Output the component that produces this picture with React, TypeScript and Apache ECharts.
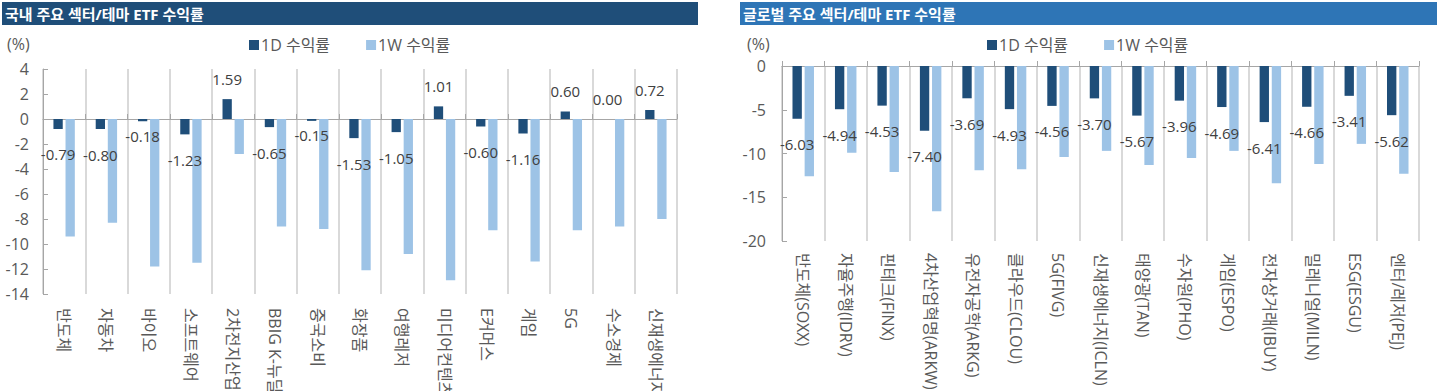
import React, { useEffect, useRef } from "react";
import * as echarts from "echarts";

// ---- data ----
const KR_CATEGORIES = ["반도체", "자동차", "바이오", "소프트웨어", "2차전지산업", "BBIG K-뉴딜", "중국소비", "화장품", "여행레저", "미디어컨텐츠", "E커머스", "게임", "5G", "수소경제", "신재생에너지"];
const KR_1D = [-0.79, -0.8, -0.18, -1.23, 1.59, -0.65, -0.15, -1.53, -1.05, 1.01, -0.6, -1.16, 0.6, 0.0, 0.72];
const KR_1W = [-9.4, -8.3, -11.8, -11.5, -2.8, -8.6, -8.8, -12.1, -10.8, -12.9, -8.9, -11.4, -8.9, -8.6, -8.0];

const GL_CATEGORIES = ["반도체(SOXX)", "자율주행(IDRV)", "핀테크(FINX)", "4차산업혁명(ARKW)", "유전자공학(ARKG)", "클라우드(CLOU)", "5G(FIVG)", "신재생에너지(ICLN)", "태양광(TAN)", "수자원(PHO)", "게임(ESPO)", "전자상거래(IBUY)", "밀레니얼(MILN)", "ESG(ESGU)", "엔터/레저(PEJ)"];
const GL_1D = [-6.03, -4.94, -4.53, -7.4, -3.69, -4.93, -4.56, -3.7, -5.67, -3.96, -4.69, -6.41, -4.66, -3.41, -5.62];
const GL_1W = [-12.6, -9.9, -12.1, -16.6, -11.9, -11.8, -10.4, -9.7, -11.3, -10.5, -9.7, -13.4, -11.2, -8.9, -12.3];

const SERIES_NAMES = ["1D 수익률", "1W 수익률"];
const KR_TITLE = "국내 주요 섹터/테마 ETF 수익률";
const GL_TITLE = "글로벌 주요 섹터/테마 ETF 수익률";
const UNIT = "(%)";
const KR_Y = { min: -14, max: 4, interval: 2 };
const GL_Y = { min: -20, max: 0, interval: 5 };
// indices of KR 1D labels that sit closer to their bar
const KR_TIGHT_LABELS = [2, 6];

// ---- styles ----
const FONT = "'Open Sans', 'Noto Sans CJK KR', sans-serif";
const C_1D = "#1F4E79";
const C_1W = "#9DC3E6";
const AXIS_GRAY = "#A6A6A6";
const GRID_GRAY = "#D9D9D9";
const TEXT_GRAY = "#595959";
const LABEL_COLOR = "#404040";

function labelFor(v: number, tight: boolean) {
  if (v >= 0) return { position: "top", distance: 13 };
  return { position: "bottom", distance: tight ? 7 : 18 };
}

function gridAxes(categories: string[], gridIndex: number, labelMargin: number) {
  return [
    {
      type: "category",
      gridIndex,
      data: categories,
      position: "bottom",
      axisLine: { show: false, onZero: false },
      axisTick: { show: false },
      axisLabel: {
        interval: 0,
        rotate: -90,
        margin: labelMargin,
        fontSize: 16,
        color: TEXT_GRAY,
        fontFamily: FONT,
      },
      splitLine: { show: true, interval: 0, lineStyle: { color: GRID_GRAY, width: 2 } },
    },
    {
      type: "category",
      gridIndex,
      data: categories,
      position: "bottom",
      axisLine: { show: true, onZero: true, lineStyle: { color: AXIS_GRAY, width: 1 } },
      axisTick: { show: true, inside: true, length: 5, interval: 0, lineStyle: { color: AXIS_GRAY } },
      axisLabel: { show: false },
      splitLine: { show: false },
    },
  ];
}

function valueAxis(gridIndex: number, cfg: { min: number; max: number; interval: number }, margin: number) {
  return {
    type: "value",
    gridIndex,
    min: cfg.min,
    max: cfg.max,
    interval: cfg.interval,
    axisLine: { show: true, lineStyle: { color: AXIS_GRAY, width: 1 } },
    axisTick: { show: true, inside: true, length: 5, lineStyle: { color: AXIS_GRAY } },
    axisLabel: { fontSize: 16, color: TEXT_GRAY, fontFamily: FONT, margin },
    splitLine: { show: false },
  };
}

function barSeries(d1: number[], w1: number[], xAxisIndex: number, yAxisIndex: number, tight: number[]) {
  return [
    {
      name: SERIES_NAMES[0],
      type: "bar",
      xAxisIndex,
      yAxisIndex,
      barWidth: "22%",
      barGap: "30%",
      itemStyle: { color: C_1D },
      label: {
        show: true,
        fontSize: 15,
        color: LABEL_COLOR,
        fontFamily: FONT,
        formatter: (p: any) => Number(p.value).toFixed(2),
      },
      data: d1.map((v, i) => ({ value: v, label: labelFor(v, tight.includes(i)) })),
    },
    {
      name: SERIES_NAMES[1],
      type: "bar",
      xAxisIndex,
      yAxisIndex,
      barWidth: "22%",
      barGap: "30%",
      itemStyle: { color: C_1W },
      data: w1,
    },
  ];
}

function legend(left: number) {
  return {
    left,
    top: 32,
    itemWidth: 10,
    itemHeight: 10,
    itemGap: 36,
    icon: "rect",
    data: SERIES_NAMES,
    textStyle: { fontSize: 16, color: TEXT_GRAY, fontFamily: FONT, padding: [0, 0, 0, -3] },
    selectedMode: false,
  };
}

export default function App() {
  const ref = useRef<HTMLDivElement>(null);
  useEffect(() => {
    if (!ref.current) return;
    const chart = echarts.init(ref.current, null, { renderer: "svg" });
    chart.setOption({
      animation: false,
      backgroundColor: "#ffffff",
      textStyle: { fontFamily: FONT },
      grid: [
        { left: 43, top: 69, width: 634, height: 225, containLabel: false, outerBoundsMode: "none" },
        { left: 782, top: 66, width: 637, height: 175, containLabel: false, outerBoundsMode: "none" },
      ],
      legend: [legend(244), legend(982)],
      xAxis: [...gridAxes(KR_CATEGORIES, 0, 14), ...gridAxes(GL_CATEGORIES, 1, 12)],
      yAxis: [valueAxis(0, KR_Y, 14), valueAxis(1, GL_Y, 16)],
      series: [
        ...barSeries(KR_1D, KR_1W, 0, 0, KR_TIGHT_LABELS),
        ...barSeries(GL_1D, GL_1W, 2, 1, []),
      ],
      graphic: [
        { type: "rect", shape: { x: 2, y: 2, width: 696, height: 23 }, style: { fill: "#1F4E79" } },
        {
          type: "text",
          x: 5,
          y: 14,
          style: { text: KR_TITLE, fill: "#ffffff", font: `bold 15px ${FONT}`, verticalAlign: "middle" },
        },
        { type: "rect", shape: { x: 740, y: 2, width: 697, height: 23 }, style: { fill: "#2E75B6" } },
        {
          type: "text",
          x: 743,
          y: 14,
          style: { text: GL_TITLE, fill: "#ffffff", font: `bold 15px ${FONT}`, verticalAlign: "middle" },
        },
        {
          type: "text",
          x: 7,
          y: 44,
          style: { text: UNIT, fill: TEXT_GRAY, font: `16px ${FONT}`, verticalAlign: "middle" },
        },
        {
          type: "text",
          x: 747,
          y: 44,
          style: { text: UNIT, fill: TEXT_GRAY, font: `16px ${FONT}`, verticalAlign: "middle" },
        },
      ],
    });
    return () => chart.dispose();
  }, []);
  return (
    <div
      ref={ref}
      style={{ position: "absolute", left: 0, top: 0, width: 1442, height: 391, background: "#fff" }}
    />
  );
}
